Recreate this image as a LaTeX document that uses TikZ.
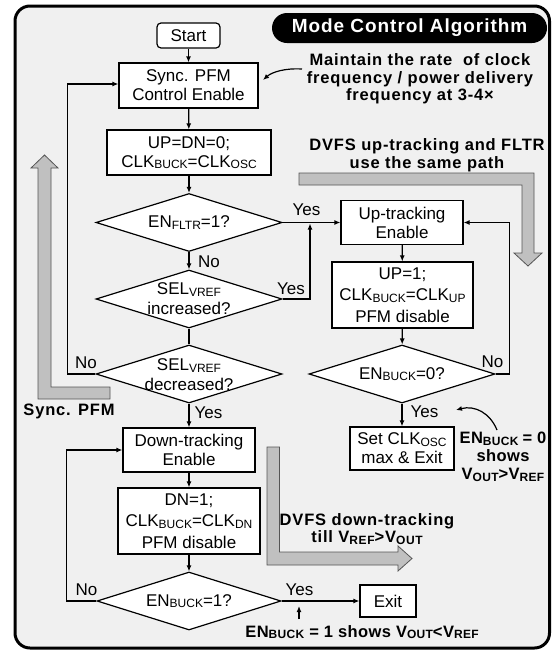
\documentclass[tikz,border=0pt]{standalone}
\usepackage{fontspec}
\setmainfont{Liberation Sans}
\newfontfamily\annfont[LetterSpace=5]{Liberation Sans}
\newfontfamily\annfontn[LetterSpace=2.5]{Liberation Sans}
\usetikzlibrary{shapes.geometric,arrows.meta}

% lowered small subscript used for signal names
\newcommand\sbt[1]{\raisebox{-1.5pt}{\fontsize{12}{12}\selectfont #1}}

\definecolor{panel}{HTML}{F0F0F0}
\definecolor{bandfill}{HTML}{C0C0C0}
\definecolor{bandline}{HTML}{555555}

\tikzset{
  box/.style={draw, fill=white, line width=1.2pt, align=center, inner sep=0pt,
    font=\fontsize{17}{19}\selectfont},
  dia/.style={draw, fill=white, diamond, line width=1.2pt, inner sep=0pt,
    minimum width=186pt, minimum height=58pt},
  diatext/.style={align=center, inner sep=0pt, font=\fontsize{17}{20}\selectfont},
  flow/.style={line width=1.2pt, -{Latex[length=6pt,width=5pt]}},
  lbl/.style={inner sep=0pt, font=\fontsize{17}{17}\selectfont},
  note/.style={align=center, inner sep=0pt,
    font=\annfont\bfseries\fontsize{16.5}{17.5}\selectfont},
  notetight/.style={align=center, inner sep=0pt,
    font=\annfontn\bfseries\fontsize{16.5}{18}\selectfont},
  band/.style={fill=bandfill, draw=bandline, line width=0.8pt, line join=miter},
}

\begin{document}
\begin{tikzpicture}[x=1pt, y=-1pt]
\useasboundingbox (0,0) rectangle (554,654);
\fill[white] (0,0) rectangle (554,654);
\draw[line width=3pt, fill=panel, rounded corners=15pt] (15,6) rectangle (549.5,648);

% title
\node[fill=black, rounded corners=15pt, minimum width=275pt, minimum height=30pt,
  inner sep=0pt, text=white, font=\annfont\bfseries\fontsize{19}{19}\selectfont]
  (title) at (409.5,28) {Mode Control Algorithm};

% wide grey arrows
\draw[band] (110,387) -- (51,387) -- (51,168) -- (58,168) -- (44.5,155) -- (31,168)
  -- (38,168) -- (38,399) -- (110,399) -- cycle;
\draw[band] (299,173) -- (534,173) -- (534,253) -- (542,253) -- (528,266) -- (514,253)
  -- (522,253) -- (522,185) -- (299,185) -- cycle;
\draw[band] (267,447) -- (279.5,447) -- (279.5,552) -- (398,552) -- (398,546)
  -- (412,558.5) -- (398,571) -- (398,565) -- (267,565) -- cycle;

% left column
\node[box, rounded corners=4pt, minimum width=63pt, minimum height=25pt] (start) at (188.5,35.5) {Start};
\node[box, minimum width=139pt, minimum height=45pt] (sync) at (188.5,85.5) {Sync. PFM\\Control Enable};
\node[box, minimum width=164pt, minimum height=45pt] (init) at (189,152.5) {UP=DN=0;\\CLK\sbt{BUCK}=CLK\sbt{OSC}};
\node[dia] (d1) at (189,222.5) {};
\node[diatext] (d1t) at (189,222.5) {EN\sbt{FLTR}=1?};
\node[dia] (d2) at (189,299) {};
\node[diatext] (d2t) at (189,299) {SEL\sbt{VREF}\\increased?};
\node[dia] (d3) at (189,374) {};
\node[diatext] (d3t) at (189,375) {SEL\sbt{VREF}\\decreased?};
\node[box, minimum width=132pt, minimum height=44pt] (down) at (189,450) {Down-tracking\\Enable};
\node[box, minimum width=142pt, minimum height=66pt, font=\fontsize{17}{21.5}\selectfont]
  (dnset) at (189,521) {DN=1;\\CLK\sbt{BUCK}=CLK\sbt{DN}\\PFM disable};
\node[dia, minimum width=184pt] (d5) at (189,601) {};
\node[diatext] (d5t) at (189,601) {EN\sbt{BUCK}=1?};
\node[box, minimum width=56pt, minimum height=32pt] (exit) at (388,601) {Exit};

% right column
\node[box, minimum width=122pt, minimum height=44pt] (up) at (402,222.5) {Up-tracking\\Enable};
\node[box, minimum width=141pt, minimum height=66pt, font=\fontsize{17}{21.5}\selectfont]
  (upset) at (402.5,295) {UP=1;\\CLK\sbt{BUCK}=CLK\sbt{UP}\\PFM disable};
\node[dia] (d4) at (402,374) {};
\node[diatext] (d4t) at (402,374) {EN\sbt{BUCK}=0?};
\node[box, minimum width=104pt, minimum height=43pt] (setclk) at (402,448.5) {Set CLK\sbt{OSC}\\max \& Exit};

% connectors
\draw[flow] (start) -- (sync);
\draw[flow] (sync) -- (init);
\draw[flow] (init) -- (d1);
\draw[flow] (d1) -- (d2);
\draw[line width=1.2pt] (d2) -- (d3);
\draw[flow] (d1.east) -- (up.west);
\coordinate (j1) at (310,223.5);
\draw[flow] (d2.east) -| (j1);
\draw[flow] (d3.west) -- ++(-28,0) |- ([yshift=1.5pt]sync.west);
\draw[flow] (d3) -- (down);
\draw[flow] (down) -- (dnset);
\draw[flow] (dnset) -- (d5);
\draw[flow] (d5.west) -- ++(-30,0) |- (down.west);
\draw[flow] (d5.east) -- (exit.west);
\draw[flow] (up) -- (upset);
\draw[flow] (upset) -- (d4);
\draw[flow] (d4) -- (setclk);
\draw[flow] (d4.east) -- ++(14,0) |- (up.east);

% branch labels
\node[lbl] (l1) at (209,262) {No};
\node[lbl] (l2) at (306.5,210) {Yes};
\node[lbl] (l3) at (291,289) {Yes};
\node[lbl] (l4) at (86,363) {No};
\node[lbl] (l5) at (208.5,413) {Yes};
\node[lbl] (l6) at (492.5,362) {No};
\node[lbl] (l7) at (424.5,412) {Yes};
\node[lbl] (l8) at (86.5,590) {No};
\node[lbl] (l9) at (299.5,590) {Yes};

% annotations
\node[note] (n1) at (420,79) {Maintain the rate \ of clock\\frequency / power delivery\\frequency at 3-4×};
\node[note] (n2) at (427,155) {DVFS up-tracking and FLTR\\use the same path};
\node[notetight] (n3) at (503,457) {EN\sbt{BUCK}\hspace{-1pt} = 0\\shows\\V\sbt{OUT}>V\sbt{REF}};
\node[note] (n4) at (367,529) {DVFS down-tracking\\till V\sbt{REF}>V\sbt{OUT}};
\node[notetight] (n5) at (362,632) {EN\sbt{BUCK} = 1 shows V\sbt{OUT}<V\sbt{REF}};
\node[note] (n6) at (69,411) {Sync. PFM};

% pointers from annotations
\coordinate (p1a) at (302,69);
\coordinate (p1b) at (263,80);
\draw[flow] (p1a) .. controls (285,68) and (272,72) .. (p1b);
\coordinate (p3a) at (497,430);
\coordinate (p3b) at (456,410);
\draw[flow] (p3a) .. controls (490,413) and (475,405) .. (p3b);
\coordinate (p5a) at (299,619);
\coordinate (p5b) at (299,606);
\draw[flow] (p5a) -- (p5b);
\end{tikzpicture}
\end{document}
